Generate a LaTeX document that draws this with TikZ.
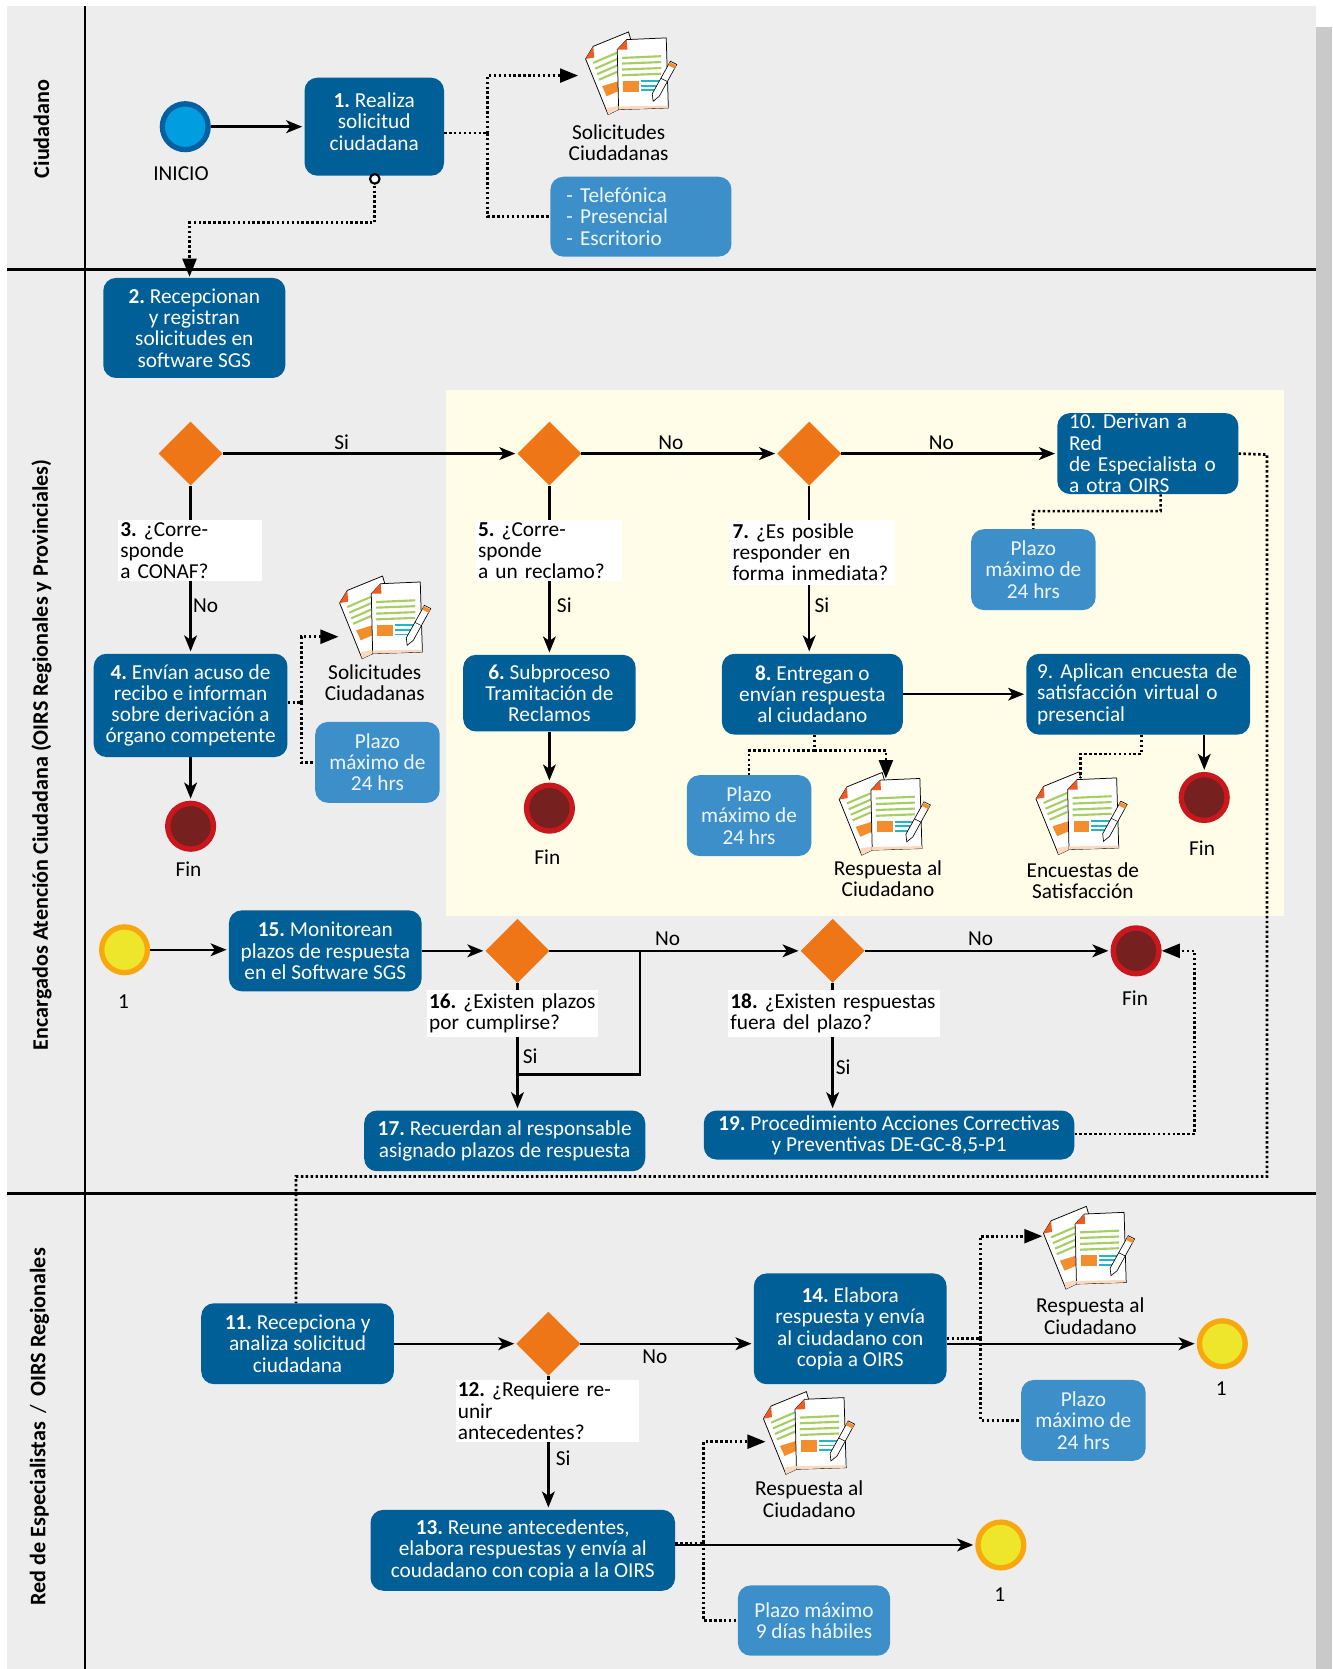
\documentclass[tikz,border=0pt]{standalone}
\usepackage{fontspec}
\setmainfont{Carlito}
\usetikzlibrary{arrows.meta,shapes.geometric}

\definecolor{laneGray}{HTML}{EDEDED}
\definecolor{stripGray}{HTML}{C9C9C9}
\definecolor{zoneYellow}{HTML}{FFFDE8}
\definecolor{boxBlue}{HTML}{005F97}
\definecolor{noteBlue}{HTML}{3D8FCA}
\definecolor{diaOrange}{HTML}{EF7617}
\definecolor{startFill}{HTML}{009EE0}
\definecolor{startEdge}{HTML}{0060A0}
\definecolor{finFill}{HTML}{76201F}
\definecolor{finEdge}{HTML}{C9171E}
\definecolor{linkFill}{HTML}{EEE62A}
\definecolor{linkEdge}{HTML}{F7A80F}
\definecolor{docGreen}{HTML}{A6CE63}
\definecolor{docOrange}{HTML}{F28E2E}
\definecolor{docRed}{HTML}{EE5A24}
\definecolor{docTeal}{HTML}{23B5C4}
\definecolor{docPeach}{HTML}{FBD9BE}

\tikzset{
  every node/.style={font=\fontsize{20}{20}\selectfont\frenchspacing},
  procbox/.style={fill=boxBlue, text=white, rounded corners=12pt, align=center, inner sep=0pt},
  procleft/.style={procbox, align=left},
  notebox/.style={fill=noteBlue, text=white!92!noteBlue, rounded corners=12pt, align=center, inner sep=0pt},
  notetext/.style={align=center, inner sep=0pt},
  question/.style={fill=white, align=left, inner sep=2pt},
  decision/.style={diamond, fill=diaOrange, minimum size=60pt, inner sep=0pt, outer sep=0pt, aspect=1},
  event/.style={circle, line width=5pt, minimum size=43pt, inner sep=0pt},
  startev/.style={event, draw=startEdge, fill=startFill},
  finev/.style={event, draw=finEdge, fill=finFill},
  linkev/.style={event, draw=linkEdge, fill=linkFill},
  flow/.style={line width=2.3pt, shorten >=2pt, -{Stealth[length=15pt,width=12pt,inset=4pt]}},
  plainflow/.style={line width=2.3pt},
  dotlink/.style={line width=2.5pt, dash pattern=on 2.3pt off 2.3pt},
  dotarrow/.style={dotlink, -{Triangle[length=17pt,width=13pt]}},
  lanelabel/.style={rotate=90, font=\fontsize{20.8}{22}\selectfont\bfseries},
  docicon/.pic={
    \draw[fill=white, line width=0.7pt] (-43.6,-13.1) -- (-36.4,-25) -- (-3.3,-38.5) -- (8,0) -- (-12.6,34.4) -- (-22.5,39.1) -- cycle;
    \fill[docPeach] (-24,33) -- (-22.5,39.1) -- (-12.6,34.4) -- (-12.6,31) -- cycle;
    \fill[docRed] (-43.6,-13.1) -- (-36.4,-25) -- (-35.6,-14.5) -- cycle;
    \draw[docGreen, line width=2pt] (-36.4,-9.4) -- (-14,-19);
    \draw[docGreen, line width=2pt] (-34.6,-4) -- (-14,-13);
    \draw[docGreen, line width=2pt] (-32.8,1.2) -- (-14,-7);
    \draw[docGreen, line width=2pt] (-31,6.4) -- (-14,-1);
    \fill[docOrange] (-28.1,12.5) -- (-13,7.8) -- (-13,17.2) -- (-23.8,21.9) -- cycle;
    \draw[fill=white, line width=0.7pt] (-13.9,-21.9) -- (-5,-31.3) -- (32.1,-32.9) -- (34.1,32.9) -- (-12.6,34.4) -- cycle;
    \fill[docPeach] (-13,31.5) -- (33.8,30.6) -- (34,32.9) -- (-12.6,34.4) -- cycle;
    \fill[docRed] (-13.9,-21.9) -- (-5,-31.3) -- (-4.4,-22) -- cycle;
    \draw[docGreen, line width=2pt] (-9.3,-14.1) -- (27.4,-15.7);
    \draw[docGreen, line width=2pt] (-9.3,-8.8) -- (27.4,-10.2);
    \draw[docGreen, line width=2pt] (-9.3,-3.2) -- (27.4,-4.6);
    \draw[docGreen, line width=2pt] (-9.3,2.2) -- (27.4,0.8);
    \fill[docOrange] (-8.3,7.2) rectangle (6.6,17.8);
    \draw[docTeal, line width=1.6pt] (8.3,7.8) -- (28,7.8);
    \draw[docTeal, line width=1.6pt] (8.3,12) -- (26,12);
    \draw[docTeal, line width=1.6pt] (8.3,16.3) -- (24,16.3);
    \draw[fill=white, line width=0.6pt] (19.8,26.6) -- (19,19.5) -- (36,-11) -- (42,-8) -- (25.5,22) -- cycle;
    \fill[docOrange] (35.5,-10.2) -- (41.5,-7.2) -- (40,-4) -- (34,-7) -- cycle;
    \draw[line width=0.5pt] (27,5) -- (33,8);
  }
}

\begin{document}
\begin{tikzpicture}[x=1pt, y=-1pt]
\useasboundingbox (0,0) rectangle (1251,1567.5);

\fill[stripGray] (1236,25) rectangle (1251,1567.5);
\fill[laneGray] (7,6) rectangle (1236,1567.5);
\fill[zoneYellow] (419,366) rectangle (1206,860);

\draw[line width=2.3pt] (80,6) -- (80,1567.5);
\draw[line width=2.3pt] (7,253) -- (1236,253);
\draw[line width=2.3pt] (7,1121) -- (1236,1121);

\node[lanelabel] (lane1) at (39,121) {Ciudadano};
\node[lanelabel] (lane2) at (39,709) {Encargados Atención Ciudadana (OIRS Regionales y Provinciales)};
\node[lanelabel] (lane3) at (37,1340) {Red de Especialistas \,{\mdseries/}\, OIRS Regionales};

\node[startev] (inicio) at (174,119) {};
\node (inicioText) at (170,163) {INICIO};

\node[procbox, minimum width=131pt, minimum height=92pt, text depth=10pt] (box1) at (351.5,119) {\textbf{1.} Realiza\\solicitud\\ciudadana};
\node[procbox, minimum width=171pt, minimum height=94pt] (box2) at (182.5,308) {\textbf{2.} Recepcionan\\y registran\\solicitudes en\\software SGS};
\node[procbox, minimum width=182pt, minimum height=97pt] (box4) at (179,662.5) {\textbf{4.} Envían acuso de\\recibo e informan\\sobre derivación a\\órgano competente};
\node[procbox, minimum width=162pt, minimum height=72pt] (box6) at (516,651) {\textbf{6.} Subproceso\\Tramitación de\\Reclamos};
\node[procbox, minimum width=170pt, minimum height=76pt] (box8) at (763,652) {\textbf{8.} Entregan o\\envían respuesta\\al ciudadano};
\node[procleft, minimum width=210pt, minimum height=76pt, text width=190pt] (box9) at (1069,652) {9. Aplican encuesta de\\satisfacción virtual o\\presencial};
\node[procleft, minimum width=170pt, minimum height=76pt, text width=148pt] (box10) at (1078,426) {10. Derivan a Red\\de Especialista o\\a otra OIRS};
\node[procbox, minimum width=181pt, minimum height=76pt] (box11) at (279.5,1262) {\textbf{11.} Recepciona y\\analiza solicitud\\ciudadana};
\node[procbox, minimum width=286pt, minimum height=76pt] (box13) at (491,1456) {\textbf{13.} Reune antecedentes,\\elabora respuestas y envía al\\coudadano con copia a la OIRS};
\node[procbox, minimum width=181pt, minimum height=104pt] (box14) at (798.5,1248) {\textbf{14.} Elabora\\respuesta y envía\\al ciudadano con\\copia a OIRS};
\node[procbox, minimum width=181pt, minimum height=76pt] (box15) at (305.5,893) {\textbf{15.} Monitorean\\plazos de respuesta\\en el Software SGS};
\node[procbox, minimum width=264pt, minimum height=57pt] (box17) at (474,1071.5) {\textbf{17.} Recuerdan al responsable\\asignado plazos de respuesta};
\node[procbox, minimum width=348pt, minimum height=46pt] (box19) at (835,1066) {\textbf{19.} Procedimiento Acciones Correctivas\\y Preventivas DE-GC-8,5-P1};

\node[notebox, align=left, minimum width=170pt, minimum height=75pt, text width=140pt] (noteVia) at (602,203.5) {- Telefónica\\- Presencial\\- Escritorio};
\node[notebox, minimum width=117pt, minimum height=76pt] (note4) at (354.5,716) {Plazo\\máximo de\\24 hrs};
\node[notebox, minimum width=117pt, minimum height=76pt] (note8) at (703.5,766) {Plazo\\máximo de\\24 hrs};
\node[notebox, minimum width=117pt, minimum height=76pt] (note10) at (970.5,535) {Plazo\\máximo de\\24 hrs};
\node[notebox, minimum width=117pt, minimum height=76pt] (note14) at (1017.5,1334) {Plazo\\máximo de\\24 hrs};
\node[notebox, minimum width=143pt, minimum height=66pt] (note13) at (764.5,1522) {Plazo máximo\\9 días hábiles};

\node[decision] (d3) at (179,426) {};
\node[decision] (d5) at (516,426) {};
\node[decision] (d7) at (760,426) {};
\node[decision] (d12) at (515,1262) {};
\node[decision] (d16) at (486,893) {};
\node[decision] (d18) at (782,893) {};

\node[finev] (fin4) at (179,776) {};
\node[finev] (fin6) at (516,759) {};
\node[finev] (fin9) at (1131,749) {};
\node[finev] (fin18) at (1067,893) {};
\node (fin4Text) at (177,816) {Fin};
\node (fin6Text) at (514,805) {Fin};
\node (fin9Text) at (1129,797) {Fin};
\node (fin18Text) at (1066,937) {Fin};

\node[linkev] (link0) at (117,892) {};
\node[linkev] (link14) at (1148,1262) {};
\node[linkev] (link13) at (940,1451) {};
\node (link0Text) at (116,941) {1};
\node (link14Text) at (1147,1304) {1};
\node (link13Text) at (939,1498) {1};

\pic at (593.6,68.5) {docicon};
\pic at (362.6,579.5) {docicon};
\pic at (831.8,764) {docicon};
\pic at (1016.6,763.5) {docicon};
\pic at (1023.6,1171.5) {docicon};
\pic at (760.6,1345.5) {docicon};

\node[notetext] (doc1Text) at (581,134) {Solicitudes\\Ciudadanas};
\node[notetext] (doc4Text) at (352,641) {Solicitudes\\Ciudadanas};
\node[notetext] (doc8Text) at (834,825) {Respuesta al\\Ciudadano};
\node[notetext] (doc9Text) at (1017,827) {Encuestas de\\Satisfacción};
\node[notetext] (doc14Text) at (1024,1236) {Respuesta al\\Ciudadano};
\node[notetext] (doc13Text) at (760,1408) {Respuesta al\\Ciudadano};

\coordinate (doc1In) at (543,71);
\coordinate (doc4In) at (318,598);
\coordinate (doc8In) at (832,731);
\coordinate (doc9In) at (1015,730);
\coordinate (doc14In) at (979,1161);
\coordinate (doc13In) at (719,1354);
\coordinate (split1) at (458,125);
\coordinate (split4) at (283,660);
\coordinate (split8) at (765,705);
\coordinate (split14) at (921,1257);
\coordinate (split13) at (661,1449);
\coordinate (bendA) at (352,209);
\coordinate (bendB) at (178,209);
\coordinate (arrive2) at (178,260);
\coordinate (bend9A) at (1072,708);
\coordinate (bend9B) at (1015,708);
\coordinate (bend10A) at (1090,480);
\coordinate (bend10B) at (970,480);
\coordinate (bend11A) at (1190,427);
\coordinate (bend11B) at (1190,1105);
\coordinate (bend11C) at (278,1105);
\coordinate (bend19) at (1122,1065);
\coordinate (join16) at (601,893);
\coordinate (join17) at (486,1009);

% solid flow
\draw[flow] (inicio.east) -- (box1.west);
\draw[flow] (d3.east) -- (d5.west);
\draw[flow] (d5.east) -- (d7.west);
\draw[flow] (d7.east) -- (box10.west);
\draw[flow] (d3.south) -- (box4.north);
\draw[flow] (d5.south) -- (box6.north);
\draw[flow] (d7.south) -- (d7.south |- box8.north);
\draw[flow] (box4.south) -- (fin4.north);
\draw[flow] (box6.south) -- (fin6.north);
\draw[flow] (box8.east) -- (box9.west);
\draw[flow] (fin9.north |- box9.south) -- (fin9.north);
\draw[flow] (link0.east) -- (link0.east -| box15.west);
\draw[flow] (box15.east) -- (box15.east -| d16.west);
\draw[flow] (d16.east) -- (d18.west);
\draw[flow] (d18.east) -- (fin18.west);
\draw[flow] (d16.south) -- (d16.south |- box17.north);
\draw[flow] (d18.south) -- (d18.south |- box19.north);
\draw[plainflow] (join16) |- (join17);
\draw[flow] (box11.east) -- (d12.west);
\draw[flow] (d12.east) -- (d12.east -| box14.west);
\draw[flow] (d12.south) -- (d12.south |- box13.north);
\draw[flow] (link14.west -| box14.east) -- (link14.west);
\draw[flow] (link13.west -| box13.east) -- (link13.west);

% dotted links
\draw[dotlink] ([yshift=-6pt]box1.east) -- (split1);
\draw[dotarrow] (split1) |- (doc1In);
\draw[dotlink] (split1) |- (noteVia.west);
\draw[dotarrow] (bendA |- box1.south) -- (bendA) -- (bendB) -- (arrive2);
\draw[fill=white, line width=2pt] (352,168) circle (4.5pt);
\draw[dotlink] (box4.east |- split4) -- (split4);
\draw[dotarrow] (split4) |- (doc4In);
\draw[dotlink] (split4) |- (note4.west);
\draw[dotlink] (split8 |- box8.south) -- (split8);
\draw[dotlink] (split8) -| (note8.north);
\draw[dotarrow] (split8) -| (doc8In);
\draw[dotlink] (bend9A |- box9.south) -- (bend9A) -- (bend9B) -- (doc9In);
\draw[dotlink] (bend10A |- box10.south) -- (bend10A) -- (bend10B) -- (note10.north);
\draw[dotlink] (box10.east) -- (bend11A) -- (bend11B) -- (bend11C) -- (bend11C |- box11.north);
\draw[dotarrow] (bend19 -| box19.east) -- (bend19) |- (fin18.east);
\draw[dotlink] (box14.east |- split14) -- (split14);
\draw[dotarrow] (split14) |- (doc14In);
\draw[dotlink] (split14) |- (note14.west);
\draw[dotlink] (box13.east |- split13) -- (split13);
\draw[dotarrow] (split13) |- (doc13In);
\draw[dotlink] (split13) |- (note13.west);

% question labels sit over the lines
\node[question, minimum width=135pt, minimum height=44pt, text width=131pt] (q3) at (178.5,517) {\textbf{3.} ¿Corresponde\\a CONAF?};
\node[question, minimum width=137pt, minimum height=44pt, text width=133pt] (q5) at (515.5,517) {\textbf{5.} ¿Corresponde\\a un reclamo?};
\node[question, minimum width=155pt, minimum height=61pt, text width=151pt] (q7) at (763.5,518.5) {\textbf{7.} ¿Es posible\\responder en\\forma inmediata?};
\node[question, minimum width=172pt, minimum height=44pt, text width=168pt] (q12) at (514,1325) {\textbf{12.} ¿Requiere reunir\\antecedentes?};
\node[question, minimum width=161pt, minimum height=44pt, text width=157pt] (q16) at (481.5,952) {\textbf{16.} ¿Existen plazos\\por cumplirse?};
\node[question, minimum width=199pt, minimum height=44pt, text width=195pt] (q18) at (783.5,952) {\textbf{18.} ¿Existen respuestas\\fuera del plazo?};

\node (lblSi3) at (321,415) {Si};
\node (lblNo5) at (630,416) {No};
\node (lblNo7) at (884,416) {No};
\node (lblNo3) at (193,569) {No};
\node (lblSi5) at (530,568) {Si};
\node (lblSi7) at (772,568) {Si};
\node (lblNo16) at (627,882) {No};
\node (lblNo18) at (921,882) {No};
\node (lblSi16) at (498,992) {Si};
\node (lblSi18) at (792,1002) {Si};
\node (lblNo12) at (615,1274) {No};
\node (lblSi12) at (529,1370) {Si};
\end{tikzpicture}
\end{document}
